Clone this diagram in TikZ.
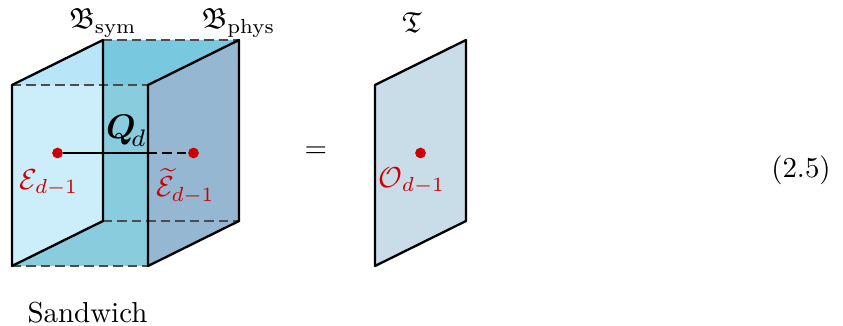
\documentclass[tikz,border=0pt]{standalone}
\usepackage{amsmath,amssymb}
\definecolor{faceL}{HTML}{CCEEFA}
\definecolor{faceLt}{HTML}{B8E6F8}
\definecolor{faceT}{HTML}{78C8E0}
\definecolor{faceM}{HTML}{88CCDD}
\definecolor{faceR}{HTML}{95B7D2}
\definecolor{plane}{HTML}{C9DDE9}
\definecolor{redop}{HTML}{CC0000}
\tikzset{
  edge/.style={line width=0.8pt,draw=black,line join=round},
  hid/.style={line width=0.5pt,draw=black!70,dash pattern=on 3.2pt off 1.8pt},
  opline/.style={line width=1pt,draw=black},
  opdot/.style={circle,fill=redop,inner sep=0pt,minimum size=3.7pt},
  lbl/.style={inner sep=0pt,anchor=center},
  oplbl/.style={inner sep=0pt,anchor=center,text=redop},
}
\begin{document}
\begin{tikzpicture}[x=0.3456pt,y=-0.3456pt]
\useasboundingbox (0,0) rectangle (843,326);
\coordinate (fa) at (12,85);
\coordinate (fb) at (148,85);
\coordinate (fc) at (148,266);
\coordinate (fd) at (12,266);
\coordinate (ba) at (103,40);
\coordinate (bb) at (239,40);
\coordinate (bc) at (239,221);
\coordinate (bd) at (103,221);
\coordinate (ma) at (103,85);
\coordinate (mid) at (148,153);
\fill[faceL] (fa) -- (ma) -- (bd) -- (fd) -- cycle;
\fill[faceLt] (fa) -- (ba) -- (ma) -- cycle;
\fill[faceT] (ba) -- (bb) -- (fb) -- (ma) -- cycle;
\fill[faceM] (ma) -- (fb) -- (fc) -- (fd) -- (bd) -- cycle;
\fill[faceR] (fb) -- (bb) -- (bc) -- (fc) -- cycle;
\draw[hid] (fa) -- (fb);
\draw[hid] (ba) -- (bb);
\draw[hid] (bd) -- (bc);
\draw[hid] (fd) -- (fc);
\draw[edge] (fa) -- (ba) -- (bd) -- (fd) -- cycle;
\draw[edge] (fb) -- (bb) -- (bc) -- (fc) -- cycle;
\node[opdot] (e1) at (57.5,153) {};
\node[opdot] (e2) at (193.5,153) {};
\draw[opline] (e1) -- (mid);
\draw[opline,dash pattern=on 3.2pt off 1.8pt] (mid) -- (e2);
\node[lbl] (bsym) at (103,23) {$\mathfrak{B}_{\mathrm{sym}}$};
\node[lbl] (bphys) at (238.5,23) {$\mathfrak{B}_{\mathrm{phys}}$};
\node[lbl,scale=1.18] (qd) at (126.5,131) {$\boldsymbol{Q}_{\!d}$};
\node[oplbl] (le1) at (49,183) {$\mathcal{E}_{d-1}$};
\node[oplbl] (le2) at (185.5,186) {$\widetilde{\mathcal{E}}_{d-1}$};
\node[lbl] (eq) at (316,152) {$=$};
\draw[edge,fill=plane] (375,85) -- (466,40) -- (466,221) -- (375,266) -- cycle;
\node[opdot] (o) at (420.5,153) {};
\node[oplbl] (lo) at (412,181) {$\mathcal{O}_{d-1}$};
\node[lbl] (t) at (412,23) {$\mathfrak{T}$};
\node[lbl] (num) at (801,170) {(2.5)};
\node[lbl] (sw) at (87.5,313) {Sandwich};
\end{tikzpicture}
\end{document}
